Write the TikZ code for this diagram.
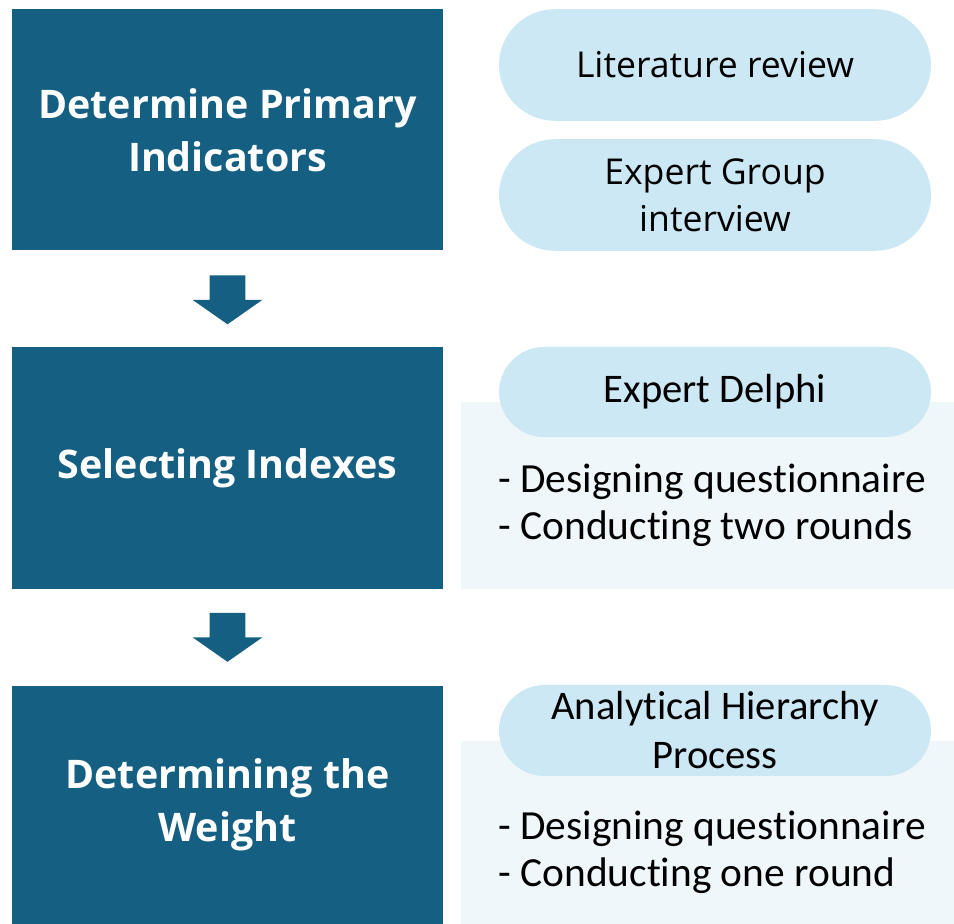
\documentclass[tikz,border=0pt]{standalone}
\usepackage{fontspec}
\setmainfont{Open Sans}
\newfontfamily\calfont[Ligatures=NoCommon]{Carlito}
\usetikzlibrary{shapes.arrows}
\usetikzlibrary{calc}
\usepgflibrary{shapes.misc}
\definecolor{stageteal}{HTML}{156082}
\definecolor{pillblue}{HTML}{CDE8F5}
\definecolor{noteblue}{HTML}{F0F7FB}

\begin{document}
\begin{tikzpicture}[x=0.5pt,y=-0.5pt,
				stagemode/.style={rectangle,inner sep=0pt,minimum width=215.5pt,fill=stageteal,text=white,align=center,font=\fontsize{19.7}{26.5}\selectfont\bfseries},
				pillmode/.style={rounded rectangle,inner sep=0pt,minimum width=216pt,fill=pillblue,align=center,font=\fontsize{17.8}{23.5}\selectfont},
				calpill/.style={pillmode,font=\calfont\fontsize{20.3}{24.5}\selectfont},
				notemode/.style={rectangle,inner sep=0pt,minimum width=246.5pt,fill=noteblue},
				listmode/.style={anchor=west,inner sep=0pt,align=left,font=\calfont\fontsize{20.7}{23.5}\selectfont},
				downarrow/.style={single arrow,anchor=tail,inner xsep=8.75pt,inner ysep=0pt,minimum height=24.5pt,single arrow head extend=8.5pt,single arrow tip angle=110,shape border rotate=270,fill=stageteal}]

				\useasboundingbox (0,0) rectangle (954,924);

				\node (stage1) [stagemode,minimum height=120.75pt] at (227.5,129.75) {Determine Primary\\Indicators};
				\node (stage2) [stagemode,minimum height=121pt] at (227.5,468) {Selecting Indexes};
				\node (stage3) [stagemode,minimum height=119pt] at (227.5,805) {Determining the\\Weight};

				\node (arrow1) [downarrow] at ($(stage1.south)+(0,24)$) {};
				\node (arrow2) [downarrow] at ($(stage2.south)+(0,23)$) {};

				\node (meth1) [pillmode,minimum height=55.8pt] at (715,65) {Literature review};
				\node (meth2) [pillmode,minimum height=55.8pt] at (715,195) {Expert Group\\interview};

				\node (note2) [notemode,minimum height=93.5pt] at (707.5,495.5) {};
				\node (meth3) [calpill,minimum height=45pt] at (715,392) {Expert Delphi};
				\node (list2) [listmode] at (498,505) {- Designing questionnaire\\- Conducting two rounds};

				\node (note3) [notemode,minimum height=91.5pt] at (707.5,832.5) {};
				\node (meth4) [calpill,minimum height=45.5pt] at (715,730.5) {Analytical Hierarchy\\Process};
				\node (list3) [listmode] at (498,852) {- Designing questionnaire\\- Conducting one round};
			\end{tikzpicture}
\end{document}
